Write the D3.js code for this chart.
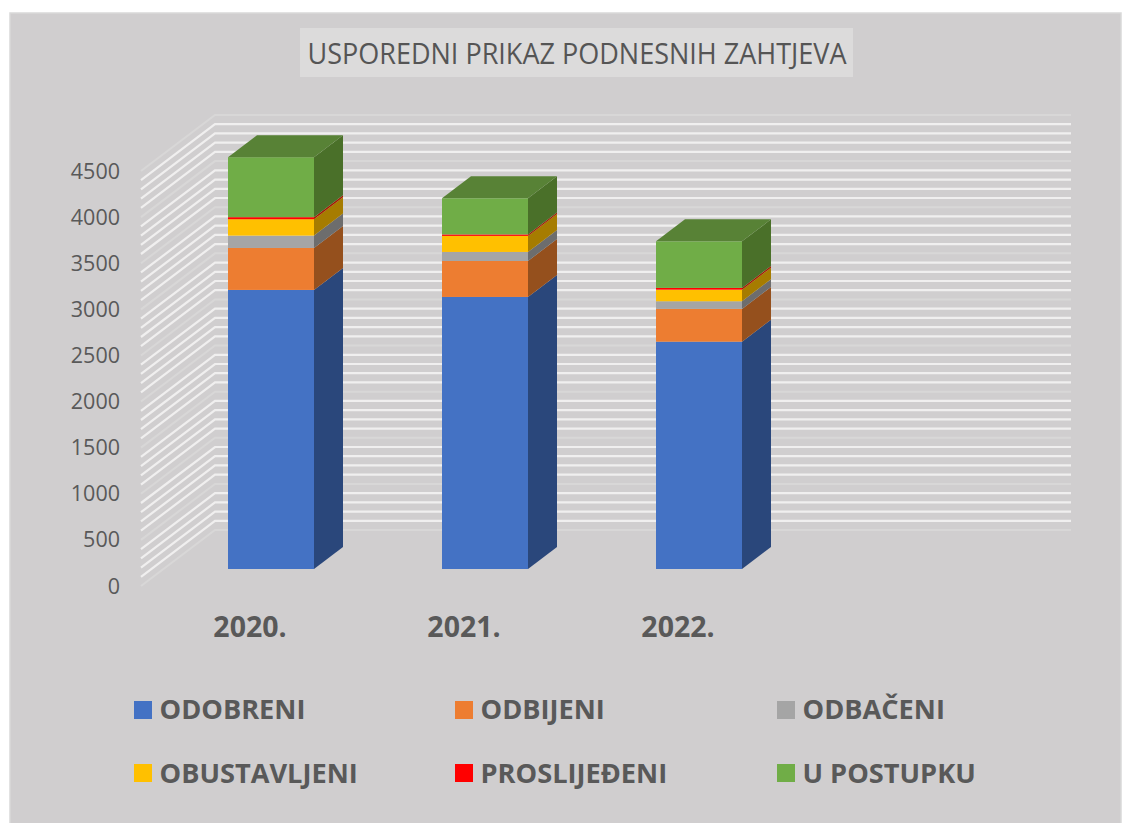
<!DOCTYPE html>
<html><head><meta charset="utf-8">
<script src="https://cdn.jsdelivr.net/npm/d3@7"></script>
<style>html,body{margin:0;padding:0;background:#fff}svg{display:block}text{font-family:"Open Sans","Noto Sans",sans-serif}</style>
</head><body><svg id="c" width="1131" height="823"></svg>
<script>
const categories = ["2020.","2021.","2022.",""];
const seriesNames = ["ODOBRENI","ODBIJENI","ODBAČENI","OBUSTAVLJENI","PROSLIJEĐENI","U POSTUPKU"];
const odobreni = [3026,2950,2465,0];
const odbijeni = [455,390,355,0];
const odbaceni = [134,98,83,0];
const obustavljeni = [178,174,126,0];
const proslijedeni = [22,16,19,0];
const uPostupku = [650,392,505,0];
const seriesValues = [odobreni,odbijeni,odbaceni,obustavljeni,proslijedeni,uPostupku];
const colors = ["#4472c4","#ed7d31","#a5a5a5","#ffc000","#ff0000","#70ad47"];
const sideColors = ["#2a477b","#95501d","#6d6d6d","#a67c00","#a61a00","#4a7029"];
const topColor = "#588236";
const yTicks = [0,500,1000,1500,2000,2500,3000,3500,4000,4500];
const minorStep = 100;

const svg = d3.select("#c");
const W=1131,H=823;
svg.append("rect").attr("width",W).attr("height",H).attr("fill","#fff");
svg.append("rect").attr("x",10).attr("y",13).attr("width",1111).attr("height",811).attr("fill","#d0cecf").attr("stroke","#d9d9d9").attr("stroke-width",1.5);

// title
svg.append("rect").attr("x",300).attr("y",28).attr("width",553).attr("height",49).attr("fill","#dcdbdb");
svg.append("text").attr("x",577).attr("y",64).attr("text-anchor","middle").attr("font-size",29).attr("textLength",539).attr("lengthAdjust","spacingAndGlyphs").attr("fill","#555555").text("USPOREDNI PRIKAZ PODNESNIH ZAHTJEVA");

const x = d3.scaleBand().domain(categories).range([164,1020]).paddingInner(128/214).paddingOuter(64/214);
const yFront = d3.scaleLinear().domain([0,4500]).range([569,154]);
const yBack = d3.scaleLinear().domain([0,4500]).range([530,115]);
const yLeft = d3.scaleLinear().domain([0,4500]).range([586,171]);
const wallL=141, wallB=215, wallR=1071, depthX=29, depthY=-22;

// walls
const grid = svg.append("g");
const gridVals = d3.range(0,4500+1,minorStep);
gridVals.forEach(v=>{
  const major = v%500===0;
  const p = d3.path();
  p.moveTo(wallL,yLeft(v)); p.lineTo(wallB,yBack(v)); p.lineTo(wallR,yBack(v));
  grid.append("path").attr("d",p.toString()).attr("fill","none").attr("stroke",major?"#d8d7d7":"#f0efef").attr("stroke-width",major?2:2.2);
});

// bars
categories.slice(0,3).forEach((c,i)=>{
  const g = svg.append("g");
  let acc=0;
  const bx=x(c), bw=x.bandwidth();
  seriesValues.forEach((vals,s)=>{
    const y0=yFront(acc), y1=yFront(acc+vals[i]);
    acc+=vals[i];
    g.append("path").attr("d",`M${bx+bw},${y0}L${bx+bw+depthX},${y0+depthY}L${bx+bw+depthX},${y1+depthY}L${bx+bw},${y1}Z`).attr("fill",sideColors[s]);
    g.append("rect").attr("x",bx).attr("y",y1).attr("width",bw).attr("height",y0-y1).attr("fill",colors[s]);
    if(s===seriesValues.length-1){
      g.append("path").attr("d",`M${bx},${y1}L${bx+depthX},${y1+depthY}L${bx+bw+depthX},${y1+depthY}L${bx+bw},${y1}Z`).attr("fill",topColor);
    }
  });
});

// y axis labels
svg.append("g").selectAll("text").data(yTicks).join("text")
  .attr("x",120).attr("y",d=>yLeft(d)+7.5).attr("text-anchor","end").attr("font-size",21.5).attr("fill","#595959").text(d=>d);

// x labels
svg.append("g").selectAll("text").data(categories.slice(0,3)).join("text")
  .attr("x",d=>x(d)+x.bandwidth()/2-21).attr("y",637).attr("text-anchor","middle").attr("font-size",28.5).attr("font-weight",700).attr("fill","#595959").text(d=>d);

// legend
const legCols=[134,455,777], legSwatchY=[701,764], legTextY=[719,783];
seriesNames.forEach((n,i)=>{
  const cx=legCols[i%3], r=Math.floor(i/3);
  svg.append("rect").attr("x",cx).attr("y",legSwatchY[r]).attr("width",18).attr("height",18).attr("fill",colors[i]);
  svg.append("text").attr("x",cx+25.5).attr("y",legTextY[r]).attr("font-size",27.2).attr("font-weight",700).attr("fill","#595959").text(n);
});
</script></body></html>
